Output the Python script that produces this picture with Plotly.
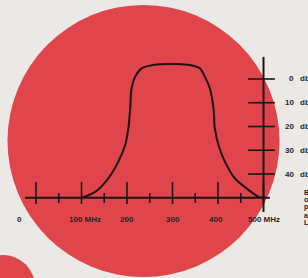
import plotly.graph_objects as go

# ---- data ----
freq_mhz = [100, 130, 159, 181, 196, 203, 207, 210, 218, 232, 250, 272, 309,
            338, 360, 371, 382, 390, 393, 401, 415, 437, 467, 489, 500]
atten_db = [50, 47.5, 41.8, 34.8, 27.8, 20.8, 12.3, 3.9, -1.0, -4.5, -5.6, -6.2, -6.3,
            -5.9, -4.5, -1.0, 3.9, 12.3, 20.8, 27.8, 34.8, 41.8, 46.7, 49.6, 50]

x_major_ticks = [0, 100, 200, 300, 400, 500]
x_minor_ticks = [50, 150, 250, 350, 450]
x_tick_labels = ["0", "100 MHz", "200", "300", "400", "500 MHz"]
y_ticks_db = [0, 10, 20, 30, 40]
y_tick_numbers = ["0", "10", "20", "30", "40"]
y_unit = "db"
side_text = ["B", "o", "p", "a", "L"]

# ---- style ----
BG = "#ebe9e5"
RED = "#df454b"
INK = "#1d1515"
FONT = dict(family="Liberation Sans", size=8, color="#2a2424")
SIDE_FONT = dict(family="Liberation Sans", size=7, color="#2a2424")

base_db = 50      # baseline of the chart (x axis position)
axis_mhz = 500    # position of the vertical db scale

fig = go.Figure()

# curve
fig.add_trace(go.Scatter(x=freq_mhz, y=atten_db, mode="lines",
                         line=dict(color=INK, width=2, shape="spline", smoothing=0.8),
                         hoverinfo="skip", showlegend=False))

def segs(pairs):
    xs, ys = [], []
    for (xa, ya), (xb, yb) in pairs:
        xs += [xa, xb, None]
        ys += [ya, yb, None]
    return xs, ys

# axis lines
xs, ys = segs([((-24, base_db), (514, base_db)), ((axis_mhz, -9.3), (axis_mhz, 56))])
fig.add_trace(go.Scatter(x=xs, y=ys, mode="lines", line=dict(color=INK, width=2),
                         hoverinfo="skip", showlegend=False))

# ticks
pairs = [((t, base_db - 6.6), (t, base_db + 2.6)) for t in x_major_ticks]
pairs += [((t, base_db - 2.0), (t, base_db + 2.2)) for t in x_minor_ticks]
pairs += [((axis_mhz - 34, d), (axis_mhz + 25, d)) for d in y_ticks_db]
xs, ys = segs(pairs)
fig.add_trace(go.Scatter(x=xs, y=ys, mode="lines", line=dict(color=INK, width=1.6),
                         hoverinfo="skip", showlegend=False))

# x labels
label_shift = [-17, 3, 0, 0, -2, 0]
for t, lab, sh in zip(x_major_ticks, x_tick_labels, label_shift):
    fig.add_annotation(x=t, y=base_db + 9.2, text="<b>%s</b>" % lab, showarrow=False,
                       xanchor="center", yanchor="middle", xshift=sh, font=FONT)

# y labels
for d, num in zip(y_ticks_db, y_tick_numbers):
    fig.add_annotation(x=axis_mhz, y=d, text="<b>%s</b>" % num, showarrow=False,
                       xanchor="right", yanchor="middle", xshift=32, font=FONT)
    fig.add_annotation(x=axis_mhz, y=d, text="<b>%s</b>" % y_unit, showarrow=False,
                       xanchor="left", yanchor="middle", xshift=34, font=FONT)

# clipped body text on the right
for i, s in enumerate(side_text):
    fig.add_annotation(xref="paper", yref="paper", x=303 / 308, y=1 - (192 + 7.7 * i) / 278,
                       text="<b>%s</b>" % s, showarrow=False, xanchor="left",
                       yanchor="middle", font=SIDE_FONT, borderpad=0)

# red discs
fig.add_shape(type="circle", xref="paper", yref="paper",
              x0=7.5 / 308, x1=279.5 / 308, y0=1 - 277 / 278, y1=1 - 5 / 278,
              fillcolor=RED, line=dict(width=0), layer="below")
fig.add_shape(type="circle", xref="paper", yref="paper",
              x0=-29 / 308, x1=35 / 308, y0=1 - 319 / 278, y1=1 - 255 / 278,
              fillcolor=RED, line=dict(width=0), layer="below")

fig.update_layout(
    width=308, height=278, autosize=False,
    margin=dict(l=0, r=0, t=0, b=0, pad=0),
    paper_bgcolor=BG, plot_bgcolor=BG,
    xaxis=dict(range=[-79.12, 597.8], visible=False, fixedrange=True),
    yaxis=dict(range=[83.79, -33.26], visible=False, fixedrange=True),
    showlegend=False,
)

fig.write_html("out.html", config=dict(displayModeBar=False),
               post_script="document.body.style.margin='0px';"
                           "document.body.style.overflow='hidden';"
                           "document.body.style.background='%s';" % BG)
